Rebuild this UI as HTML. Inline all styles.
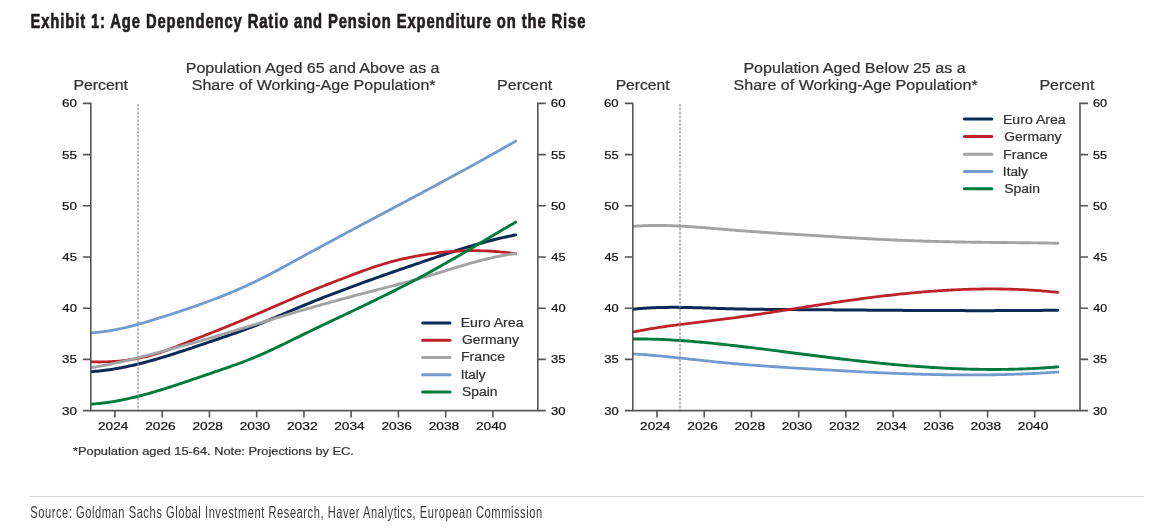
<!DOCTYPE html>
<html><head><meta charset="utf-8"><style>
html,body{margin:0;padding:0;background:#fff;}
svg{display:block;font-family:"Liberation Sans",sans-serif;}

</style></head><body>
<svg width="1155" height="531" viewBox="0 0 1155 531">
<defs><filter id="soft" x="0" y="0" width="1155" height="531" filterUnits="userSpaceOnUse"><feGaussianBlur stdDeviation="0.3"/></filter></defs>
<g filter="url(#soft)">
<rect x="30" y="496" width="1114" height="1" fill="#d6d6d6"/>
<path d="M91.30,371.64 L93.30,371.50 L95.30,371.34 L97.31,371.16 L99.31,370.96 L101.31,370.75 L103.31,370.52 L105.31,370.27 L107.32,370.01 L109.32,369.72 L111.32,369.43 L113.32,369.11 L115.32,368.78 L117.33,368.44 L119.33,368.08 L121.33,367.70 L123.33,367.31 L125.34,366.91 L127.34,366.50 L129.34,366.07 L131.34,365.63 L133.34,365.17 L135.35,364.70 L137.35,364.23 L139.35,363.73 L141.35,363.23 L143.35,362.72 L145.36,362.20 L147.36,361.67 L149.36,361.12 L151.36,360.57 L153.36,360.01 L155.37,359.44 L157.37,358.86 L159.37,358.27 L161.37,357.68 L163.37,357.08 L165.38,356.47 L167.38,355.85 L169.38,355.23 L171.38,354.60 L173.39,353.97 L175.39,353.33 L177.39,352.68 L179.39,352.03 L181.39,351.38 L183.40,350.72 L185.40,350.06 L187.40,349.39 L189.40,348.72 L191.40,348.05 L193.41,347.38 L195.41,346.70 L197.41,346.02 L199.41,345.34 L201.41,344.66 L203.42,343.98 L205.42,343.30 L207.42,342.62 L209.42,341.94 L211.42,341.26 L213.43,340.57 L215.43,339.89 L217.43,339.21 L219.43,338.53 L221.43,337.84 L223.44,337.16 L225.44,336.47 L227.44,335.78 L229.44,335.08 L231.45,334.38 L233.45,333.68 L235.45,332.97 L237.45,332.25 L239.45,331.53 L241.46,330.81 L243.46,330.08 L245.46,329.34 L247.46,328.59 L249.46,327.84 L251.47,327.07 L253.47,326.30 L255.47,325.52 L257.47,324.73 L259.47,323.93 L261.48,323.12 L263.48,322.31 L265.48,321.49 L267.48,320.66 L269.48,319.82 L271.49,318.99 L273.49,318.14 L275.49,317.30 L277.49,316.45 L279.50,315.60 L281.50,314.76 L283.50,313.91 L285.50,313.06 L287.50,312.21 L289.51,311.37 L291.51,310.52 L293.51,309.68 L295.51,308.84 L297.51,308.00 L299.52,307.17 L301.52,306.34 L303.52,305.51 L305.52,304.69 L307.52,303.87 L309.53,303.06 L311.53,302.25 L313.53,301.45 L315.53,300.64 L317.53,299.85 L319.54,299.05 L321.54,298.26 L323.54,297.47 L325.54,296.69 L327.54,295.91 L329.55,295.14 L331.55,294.36 L333.55,293.60 L335.55,292.83 L337.56,292.07 L339.56,291.31 L341.56,290.55 L343.56,289.80 L345.56,289.05 L347.57,288.30 L349.57,287.56 L351.57,286.82 L353.57,286.08 L355.57,285.34 L357.58,284.61 L359.58,283.88 L361.58,283.15 L363.58,282.42 L365.58,281.70 L367.59,280.98 L369.59,280.26 L371.59,279.54 L373.59,278.83 L375.59,278.11 L377.60,277.40 L379.60,276.69 L381.60,275.99 L383.60,275.28 L385.61,274.58 L387.61,273.88 L389.61,273.18 L391.61,272.48 L393.61,271.78 L395.62,271.08 L397.62,270.39 L399.62,269.70 L401.62,269.00 L403.62,268.31 L405.63,267.62 L407.63,266.93 L409.63,266.24 L411.63,265.56 L413.63,264.87 L415.64,264.18 L417.64,263.50 L419.64,262.82 L421.64,262.13 L423.64,261.45 L425.65,260.77 L427.65,260.08 L429.65,259.40 L431.65,258.72 L433.65,258.05 L435.66,257.37 L437.66,256.70 L439.66,256.03 L441.66,255.36 L443.67,254.70 L445.67,254.04 L447.67,253.38 L449.67,252.72 L451.67,252.07 L453.68,251.43 L455.68,250.79 L457.68,250.15 L459.68,249.52 L461.68,248.89 L463.69,248.27 L465.69,247.66 L467.69,247.05 L469.69,246.45 L471.69,245.85 L473.70,245.26 L475.70,244.68 L477.70,244.11 L479.70,243.54 L481.70,242.98 L483.71,242.43 L485.71,241.88 L487.71,241.35 L489.71,240.82 L491.72,240.31 L493.72,239.80 L495.72,239.30 L497.72,238.81 L499.72,238.33 L501.73,237.87 L503.73,237.41 L505.73,236.96 L507.73,236.53 L509.73,236.10 L511.74,235.69 L513.74,235.29 L515.74,234.90" fill="none" stroke="#0b2a56" stroke-width="3.0" stroke-linecap="round" stroke-linejoin="round"/>
<path d="M91.30,361.86 L93.30,361.92 L95.30,361.95 L97.31,361.97 L99.31,361.98 L101.31,361.96 L103.31,361.93 L105.31,361.88 L107.32,361.81 L109.32,361.73 L111.32,361.62 L113.32,361.50 L115.32,361.36 L117.33,361.20 L119.33,361.02 L121.33,360.82 L123.33,360.60 L125.34,360.36 L127.34,360.10 L129.34,359.81 L131.34,359.51 L133.34,359.18 L135.35,358.84 L137.35,358.47 L139.35,358.07 L141.35,357.66 L143.35,357.22 L145.36,356.76 L147.36,356.28 L149.36,355.77 L151.36,355.23 L153.36,354.68 L155.37,354.09 L157.37,353.49 L159.37,352.86 L161.37,352.20 L163.37,351.51 L165.38,350.81 L167.38,350.08 L169.38,349.33 L171.38,348.56 L173.39,347.79 L175.39,347.00 L177.39,346.20 L179.39,345.40 L181.39,344.60 L183.40,343.79 L185.40,342.99 L187.40,342.20 L189.40,341.40 L191.40,340.62 L193.41,339.83 L195.41,339.05 L197.41,338.27 L199.41,337.50 L201.41,336.72 L203.42,335.94 L205.42,335.16 L207.42,334.38 L209.42,333.60 L211.42,332.81 L213.43,332.02 L215.43,331.23 L217.43,330.43 L219.43,329.63 L221.43,328.83 L223.44,328.02 L225.44,327.21 L227.44,326.40 L229.44,325.58 L231.45,324.76 L233.45,323.94 L235.45,323.11 L237.45,322.28 L239.45,321.45 L241.46,320.61 L243.46,319.78 L245.46,318.93 L247.46,318.09 L249.46,317.24 L251.47,316.39 L253.47,315.54 L255.47,314.68 L257.47,313.82 L259.47,312.96 L261.48,312.10 L263.48,311.23 L265.48,310.36 L267.48,309.49 L269.48,308.62 L271.49,307.75 L273.49,306.88 L275.49,306.01 L277.49,305.14 L279.50,304.27 L281.50,303.40 L283.50,302.53 L285.50,301.67 L287.50,300.81 L289.51,299.95 L291.51,299.09 L293.51,298.23 L295.51,297.38 L297.51,296.54 L299.52,295.69 L301.52,294.86 L303.52,294.02 L305.52,293.19 L307.52,292.37 L309.53,291.56 L311.53,290.74 L313.53,289.93 L315.53,289.13 L317.53,288.33 L319.54,287.53 L321.54,286.74 L323.54,285.95 L325.54,285.17 L327.54,284.39 L329.55,283.61 L331.55,282.83 L333.55,282.06 L335.55,281.29 L337.56,280.52 L339.56,279.75 L341.56,278.98 L343.56,278.22 L345.56,277.46 L347.57,276.70 L349.57,275.94 L351.57,275.18 L353.57,274.42 L355.57,273.66 L357.58,272.91 L359.58,272.16 L361.58,271.42 L363.58,270.68 L365.58,269.96 L367.59,269.24 L369.59,268.54 L371.59,267.84 L373.59,267.17 L375.59,266.50 L377.60,265.85 L379.60,265.22 L381.60,264.60 L383.60,263.99 L385.61,263.40 L387.61,262.83 L389.61,262.27 L391.61,261.72 L393.61,261.19 L395.62,260.67 L397.62,260.17 L399.62,259.67 L401.62,259.20 L403.62,258.73 L405.63,258.28 L407.63,257.85 L409.63,257.43 L411.63,257.02 L413.63,256.62 L415.64,256.24 L417.64,255.86 L419.64,255.51 L421.64,255.16 L423.64,254.83 L425.65,254.51 L427.65,254.20 L429.65,253.90 L431.65,253.62 L433.65,253.35 L435.66,253.09 L437.66,252.85 L439.66,252.62 L441.66,252.40 L443.67,252.19 L445.67,252.00 L447.67,251.82 L449.67,251.65 L451.67,251.50 L453.68,251.36 L455.68,251.23 L457.68,251.12 L459.68,251.02 L461.68,250.93 L463.69,250.85 L465.69,250.79 L467.69,250.74 L469.69,250.71 L471.69,250.69 L473.70,250.68 L475.70,250.69 L477.70,250.71 L479.70,250.74 L481.70,250.79 L483.71,250.85 L485.71,250.93 L487.71,251.02 L489.71,251.12 L491.72,251.24 L493.72,251.37 L495.72,251.51 L497.72,251.67 L499.72,251.84 L501.73,252.03 L503.73,252.23 L505.73,252.45 L507.73,252.68 L509.73,252.92 L511.74,253.18 L513.74,253.45 L515.74,253.74" fill="none" stroke="#bc2229" stroke-width="2.8" stroke-linecap="round" stroke-linejoin="round"/>
<path d="M91.30,367.59 L93.30,367.28 L95.30,366.96 L97.31,366.62 L99.31,366.27 L101.31,365.91 L103.31,365.54 L105.31,365.17 L107.32,364.78 L109.32,364.38 L111.32,363.97 L113.32,363.55 L115.32,363.12 L117.33,362.69 L119.33,362.25 L121.33,361.80 L123.33,361.34 L125.34,360.87 L127.34,360.40 L129.34,359.92 L131.34,359.44 L133.34,358.95 L135.35,358.45 L137.35,357.95 L139.35,357.44 L141.35,356.93 L143.35,356.41 L145.36,355.90 L147.36,355.37 L149.36,354.85 L151.36,354.32 L153.36,353.78 L155.37,353.25 L157.37,352.71 L159.37,352.17 L161.37,351.63 L163.37,351.09 L165.38,350.55 L167.38,350.00 L169.38,349.46 L171.38,348.91 L173.39,348.36 L175.39,347.81 L177.39,347.26 L179.39,346.71 L181.39,346.16 L183.40,345.60 L185.40,345.04 L187.40,344.48 L189.40,343.92 L191.40,343.36 L193.41,342.80 L195.41,342.23 L197.41,341.66 L199.41,341.09 L201.41,340.52 L203.42,339.94 L205.42,339.36 L207.42,338.78 L209.42,338.20 L211.42,337.62 L213.43,337.03 L215.43,336.44 L217.43,335.85 L219.43,335.25 L221.43,334.66 L223.44,334.06 L225.44,333.46 L227.44,332.86 L229.44,332.26 L231.45,331.65 L233.45,331.05 L235.45,330.44 L237.45,329.83 L239.45,329.22 L241.46,328.62 L243.46,328.00 L245.46,327.39 L247.46,326.78 L249.46,326.17 L251.47,325.56 L253.47,324.95 L255.47,324.33 L257.47,323.72 L259.47,323.11 L261.48,322.50 L263.48,321.88 L265.48,321.27 L267.48,320.66 L269.48,320.05 L271.49,319.44 L273.49,318.83 L275.49,318.22 L277.49,317.62 L279.50,317.01 L281.50,316.41 L283.50,315.80 L285.50,315.20 L287.50,314.60 L289.51,314.00 L291.51,313.41 L293.51,312.81 L295.51,312.22 L297.51,311.63 L299.52,311.04 L301.52,310.45 L303.52,309.87 L305.52,309.29 L307.52,308.71 L309.53,308.13 L311.53,307.56 L313.53,306.98 L315.53,306.41 L317.53,305.85 L319.54,305.28 L321.54,304.72 L323.54,304.16 L325.54,303.60 L327.54,303.04 L329.55,302.49 L331.55,301.94 L333.55,301.39 L335.55,300.84 L337.56,300.29 L339.56,299.75 L341.56,299.20 L343.56,298.66 L345.56,298.12 L347.57,297.59 L349.57,297.05 L351.57,296.52 L353.57,295.98 L355.57,295.45 L357.58,294.92 L359.58,294.39 L361.58,293.87 L363.58,293.34 L365.58,292.82 L367.59,292.29 L369.59,291.77 L371.59,291.25 L373.59,290.73 L375.59,290.22 L377.60,289.70 L379.60,289.18 L381.60,288.67 L383.60,288.15 L385.61,287.63 L387.61,287.12 L389.61,286.60 L391.61,286.08 L393.61,285.56 L395.62,285.04 L397.62,284.51 L399.62,283.98 L401.62,283.45 L403.62,282.92 L405.63,282.38 L407.63,281.84 L409.63,281.30 L411.63,280.75 L413.63,280.19 L415.64,279.63 L417.64,279.07 L419.64,278.50 L421.64,277.92 L423.64,277.34 L425.65,276.75 L427.65,276.15 L429.65,275.55 L431.65,274.95 L433.65,274.34 L435.66,273.74 L437.66,273.12 L439.66,272.51 L441.66,271.90 L443.67,271.28 L445.67,270.67 L447.67,270.05 L449.67,269.44 L451.67,268.83 L453.68,268.22 L455.68,267.61 L457.68,267.00 L459.68,266.40 L461.68,265.81 L463.69,265.22 L465.69,264.63 L467.69,264.05 L469.69,263.48 L471.69,262.92 L473.70,262.36 L475.70,261.81 L477.70,261.27 L479.70,260.74 L481.70,260.22 L483.71,259.71 L485.71,259.22 L487.71,258.73 L489.71,258.26 L491.72,257.80 L493.72,257.35 L495.72,256.92 L497.72,256.50 L499.72,256.09 L501.73,255.71 L503.73,255.33 L505.73,254.98 L507.73,254.64 L509.73,254.32 L511.74,254.02 L513.74,253.74 L515.74,253.48" fill="none" stroke="#a3a3a3" stroke-width="2.9" stroke-linecap="round" stroke-linejoin="round"/>
<path d="M91.30,332.83 L93.30,332.71 L95.30,332.55 L97.31,332.38 L99.31,332.17 L101.31,331.95 L103.31,331.70 L105.31,331.42 L107.32,331.13 L109.32,330.81 L111.32,330.47 L113.32,330.11 L115.32,329.74 L117.33,329.34 L119.33,328.93 L121.33,328.50 L123.33,328.05 L125.34,327.58 L127.34,327.10 L129.34,326.61 L131.34,326.10 L133.34,325.58 L135.35,325.05 L137.35,324.51 L139.35,323.95 L141.35,323.39 L143.35,322.81 L145.36,322.23 L147.36,321.64 L149.36,321.04 L151.36,320.43 L153.36,319.82 L155.37,319.20 L157.37,318.58 L159.37,317.95 L161.37,317.32 L163.37,316.69 L165.38,316.06 L167.38,315.42 L169.38,314.78 L171.38,314.14 L173.39,313.49 L175.39,312.84 L177.39,312.19 L179.39,311.53 L181.39,310.87 L183.40,310.20 L185.40,309.53 L187.40,308.86 L189.40,308.18 L191.40,307.49 L193.41,306.80 L195.41,306.10 L197.41,305.40 L199.41,304.69 L201.41,303.97 L203.42,303.25 L205.42,302.52 L207.42,301.78 L209.42,301.04 L211.42,300.28 L213.43,299.52 L215.43,298.76 L217.43,297.98 L219.43,297.20 L221.43,296.40 L223.44,295.60 L225.44,294.79 L227.44,293.97 L229.44,293.14 L231.45,292.31 L233.45,291.46 L235.45,290.60 L237.45,289.74 L239.45,288.86 L241.46,287.97 L243.46,287.07 L245.46,286.17 L247.46,285.25 L249.46,284.32 L251.47,283.38 L253.47,282.43 L255.47,281.46 L257.47,280.49 L259.47,279.50 L261.48,278.51 L263.48,277.50 L265.48,276.48 L267.48,275.46 L269.48,274.42 L271.49,273.38 L273.49,272.33 L275.49,271.27 L277.49,270.21 L279.50,269.14 L281.50,268.07 L283.50,266.99 L285.50,265.91 L287.50,264.82 L289.51,263.73 L291.51,262.64 L293.51,261.55 L295.51,260.45 L297.51,259.36 L299.52,258.26 L301.52,257.16 L303.52,256.07 L305.52,254.98 L307.52,253.89 L309.53,252.80 L311.53,251.71 L313.53,250.62 L315.53,249.54 L317.53,248.45 L319.54,247.37 L321.54,246.29 L323.54,245.21 L325.54,244.13 L327.54,243.05 L329.55,241.97 L331.55,240.90 L333.55,239.82 L335.55,238.75 L337.56,237.68 L339.56,236.60 L341.56,235.53 L343.56,234.46 L345.56,233.39 L347.57,232.32 L349.57,231.25 L351.57,230.19 L353.57,229.12 L355.57,228.05 L357.58,226.99 L359.58,225.92 L361.58,224.86 L363.58,223.79 L365.58,222.73 L367.59,221.66 L369.59,220.60 L371.59,219.54 L373.59,218.47 L375.59,217.41 L377.60,216.35 L379.60,215.28 L381.60,214.22 L383.60,213.16 L385.61,212.09 L387.61,211.03 L389.61,209.97 L391.61,208.91 L393.61,207.84 L395.62,206.78 L397.62,205.72 L399.62,204.65 L401.62,203.59 L403.62,202.52 L405.63,201.46 L407.63,200.39 L409.63,199.32 L411.63,198.26 L413.63,197.19 L415.64,196.12 L417.64,195.05 L419.64,193.98 L421.64,192.91 L423.64,191.84 L425.65,190.77 L427.65,189.70 L429.65,188.63 L431.65,187.55 L433.65,186.48 L435.66,185.40 L437.66,184.32 L439.66,183.24 L441.66,182.17 L443.67,181.08 L445.67,180.00 L447.67,178.92 L449.67,177.84 L451.67,176.75 L453.68,175.66 L455.68,174.57 L457.68,173.48 L459.68,172.39 L461.68,171.30 L463.69,170.21 L465.69,169.11 L467.69,168.01 L469.69,166.91 L471.69,165.81 L473.70,164.71 L475.70,163.60 L477.70,162.50 L479.70,161.39 L481.70,160.28 L483.71,159.17 L485.71,158.05 L487.71,156.94 L489.71,155.82 L491.72,154.70 L493.72,153.57 L495.72,152.45 L497.72,151.32 L499.72,150.19 L501.73,149.06 L503.73,147.93 L505.73,146.79 L507.73,145.65 L509.73,144.51 L511.74,143.37 L513.74,142.22 L515.74,141.07" fill="none" stroke="#729acc" stroke-width="2.8" stroke-linecap="round" stroke-linejoin="round"/>
<path d="M91.30,404.15 L93.30,404.01 L95.30,403.85 L97.31,403.67 L99.31,403.47 L101.31,403.25 L103.31,403.01 L105.31,402.76 L107.32,402.48 L109.32,402.19 L111.32,401.88 L113.32,401.56 L115.32,401.22 L117.33,400.86 L119.33,400.49 L121.33,400.11 L123.33,399.70 L125.34,399.29 L127.34,398.86 L129.34,398.41 L131.34,397.96 L133.34,397.49 L135.35,397.00 L137.35,396.51 L139.35,396.00 L141.35,395.49 L143.35,394.96 L145.36,394.42 L147.36,393.87 L149.36,393.31 L151.36,392.74 L153.36,392.16 L155.37,391.57 L157.37,390.98 L159.37,390.37 L161.37,389.76 L163.37,389.14 L165.38,388.52 L167.38,387.89 L169.38,387.25 L171.38,386.60 L173.39,385.95 L175.39,385.30 L177.39,384.64 L179.39,383.98 L181.39,383.31 L183.40,382.64 L185.40,381.96 L187.40,381.29 L189.40,380.61 L191.40,379.93 L193.41,379.24 L195.41,378.56 L197.41,377.87 L199.41,377.18 L201.41,376.50 L203.42,375.81 L205.42,375.13 L207.42,374.44 L209.42,373.76 L211.42,373.07 L213.43,372.39 L215.43,371.71 L217.43,371.03 L219.43,370.34 L221.43,369.66 L223.44,368.97 L225.44,368.28 L227.44,367.58 L229.44,366.88 L231.45,366.18 L233.45,365.46 L235.45,364.75 L237.45,364.02 L239.45,363.28 L241.46,362.54 L243.46,361.79 L245.46,361.02 L247.46,360.25 L249.46,359.46 L251.47,358.66 L253.47,357.85 L255.47,357.02 L257.47,356.18 L259.47,355.32 L261.48,354.45 L263.48,353.57 L265.48,352.68 L267.48,351.77 L269.48,350.85 L271.49,349.93 L273.49,348.99 L275.49,348.05 L277.49,347.09 L279.50,346.14 L281.50,345.17 L283.50,344.20 L285.50,343.23 L287.50,342.25 L289.51,341.27 L291.51,340.29 L293.51,339.30 L295.51,338.32 L297.51,337.33 L299.52,336.35 L301.52,335.36 L303.52,334.38 L305.52,333.41 L307.52,332.43 L309.53,331.46 L311.53,330.50 L313.53,329.53 L315.53,328.57 L317.53,327.61 L319.54,326.65 L321.54,325.69 L323.54,324.73 L325.54,323.78 L327.54,322.83 L329.55,321.88 L331.55,320.93 L333.55,319.98 L335.55,319.03 L337.56,318.08 L339.56,317.14 L341.56,316.19 L343.56,315.24 L345.56,314.29 L347.57,313.35 L349.57,312.40 L351.57,311.45 L353.57,310.50 L355.57,309.55 L357.58,308.60 L359.58,307.65 L361.58,306.69 L363.58,305.74 L365.58,304.78 L367.59,303.82 L369.59,302.86 L371.59,301.90 L373.59,300.93 L375.59,299.96 L377.60,298.99 L379.60,298.01 L381.60,297.04 L383.60,296.06 L385.61,295.07 L387.61,294.08 L389.61,293.09 L391.61,292.10 L393.61,291.10 L395.62,290.09 L397.62,289.08 L399.62,288.07 L401.62,287.05 L403.62,286.03 L405.63,285.00 L407.63,283.97 L409.63,282.93 L411.63,281.89 L413.63,280.84 L415.64,279.78 L417.64,278.72 L419.64,277.65 L421.64,276.57 L423.64,275.49 L425.65,274.40 L427.65,273.31 L429.65,272.21 L431.65,271.11 L433.65,269.99 L435.66,268.88 L437.66,267.76 L439.66,266.63 L441.66,265.50 L443.67,264.36 L445.67,263.22 L447.67,262.07 L449.67,260.93 L451.67,259.77 L453.68,258.62 L455.68,257.46 L457.68,256.29 L459.68,255.13 L461.68,253.96 L463.69,252.79 L465.69,251.61 L467.69,250.44 L469.69,249.26 L471.69,248.08 L473.70,246.90 L475.70,245.71 L477.70,244.53 L479.70,243.34 L481.70,242.15 L483.71,240.97 L485.71,239.78 L487.71,238.59 L489.71,237.40 L491.72,236.22 L493.72,235.03 L495.72,233.84 L497.72,232.65 L499.72,231.47 L501.73,230.28 L503.73,229.10 L505.73,227.92 L507.73,226.74 L509.73,225.56 L511.74,224.38 L513.74,223.21 L515.74,222.04" fill="none" stroke="#007a3c" stroke-width="2.9" stroke-linecap="round" stroke-linejoin="round"/>
<line x1="138.00" y1="104" x2="138.00" y2="410" stroke="#909090" stroke-width="1.25" stroke-dasharray="2.5,1.37"/>
<path d="M82.80,103.4 H90.8 V410.6 H537.8 V103.4 H545.80" fill="none" stroke="#555" stroke-width="1.6"/>
<path d="M82.80,359.40 H90.8 M537.8,359.40 H545.80 M82.80,308.20 H90.8 M537.8,308.20 H545.80 M82.80,257.00 H90.8 M537.8,257.00 H545.80 M82.80,205.80 H90.8 M537.8,205.80 H545.80 M82.80,154.60 H90.8 M537.8,154.60 H545.80 M82.80,410.6 H90.8 M537.8,410.6 H545.80 M114.92,410.6 V417.6 M162.18,410.6 V417.6 M209.43,410.6 V417.6 M256.68,410.6 V417.6 M303.93,410.6 V417.6 M351.18,410.6 V417.6 M398.43,410.6 V417.6 M445.68,410.6 V417.6 M492.93,410.6 V417.6 " fill="none" stroke="#555" stroke-width="1.6"/>
<line x1="422.6" y1="322.9" x2="450.0" y2="322.9" stroke="#0b2a56" stroke-width="3" stroke-linecap="round"/>
<line x1="422.6" y1="340.3" x2="450.0" y2="340.3" stroke="#bc2229" stroke-width="3" stroke-linecap="round"/>
<line x1="422.6" y1="357.5" x2="450.0" y2="357.5" stroke="#a3a3a3" stroke-width="3" stroke-linecap="round"/>
<line x1="422.6" y1="374.8" x2="450.0" y2="374.8" stroke="#729acc" stroke-width="3" stroke-linecap="round"/>
<line x1="422.6" y1="392.1" x2="450.0" y2="392.1" stroke="#007a3c" stroke-width="3" stroke-linecap="round"/>
<path d="M633.40,309.16 L635.40,308.96 L637.40,308.78 L639.41,308.61 L641.41,308.45 L643.41,308.30 L645.41,308.17 L647.41,308.05 L649.42,307.94 L651.42,307.83 L653.42,307.74 L655.42,307.67 L657.42,307.60 L659.43,307.54 L661.43,307.48 L663.43,307.44 L665.43,307.41 L667.44,307.38 L669.44,307.37 L671.44,307.36 L673.44,307.35 L675.44,307.36 L677.45,307.37 L679.45,307.38 L681.45,307.41 L683.45,307.43 L685.45,307.47 L687.46,307.50 L689.46,307.54 L691.46,307.59 L693.46,307.64 L695.46,307.69 L697.47,307.75 L699.47,307.80 L701.47,307.87 L703.47,307.93 L705.47,307.99 L707.48,308.06 L709.48,308.12 L711.48,308.19 L713.48,308.25 L715.49,308.32 L717.49,308.39 L719.49,308.45 L721.49,308.52 L723.49,308.58 L725.50,308.64 L727.50,308.70 L729.50,308.75 L731.50,308.81 L733.50,308.86 L735.51,308.90 L737.51,308.95 L739.51,308.99 L741.51,309.03 L743.51,309.07 L745.52,309.11 L747.52,309.15 L749.52,309.18 L751.52,309.21 L753.52,309.24 L755.53,309.27 L757.53,309.30 L759.53,309.32 L761.53,309.35 L763.53,309.37 L765.54,309.39 L767.54,309.41 L769.54,309.43 L771.54,309.45 L773.55,309.47 L775.55,309.48 L777.55,309.50 L779.55,309.51 L781.55,309.53 L783.56,309.54 L785.56,309.56 L787.56,309.57 L789.56,309.58 L791.56,309.60 L793.57,309.61 L795.57,309.62 L797.57,309.63 L799.57,309.65 L801.57,309.66 L803.58,309.67 L805.58,309.69 L807.58,309.70 L809.58,309.71 L811.58,309.73 L813.59,309.74 L815.59,309.75 L817.59,309.77 L819.59,309.78 L821.60,309.80 L823.60,309.81 L825.60,309.83 L827.60,309.84 L829.60,309.86 L831.61,309.87 L833.61,309.88 L835.61,309.90 L837.61,309.91 L839.61,309.93 L841.62,309.94 L843.62,309.96 L845.62,309.97 L847.62,309.99 L849.62,310.00 L851.63,310.02 L853.63,310.03 L855.63,310.05 L857.63,310.06 L859.63,310.08 L861.64,310.09 L863.64,310.11 L865.64,310.12 L867.64,310.13 L869.64,310.15 L871.65,310.16 L873.65,310.18 L875.65,310.19 L877.65,310.21 L879.66,310.22 L881.66,310.23 L883.66,310.25 L885.66,310.26 L887.66,310.27 L889.67,310.29 L891.67,310.30 L893.67,310.31 L895.67,310.33 L897.67,310.34 L899.68,310.35 L901.68,310.36 L903.68,310.38 L905.68,310.39 L907.68,310.40 L909.69,310.41 L911.69,310.42 L913.69,310.43 L915.69,310.45 L917.69,310.46 L919.70,310.47 L921.70,310.48 L923.70,310.49 L925.70,310.50 L927.71,310.51 L929.71,310.51 L931.71,310.52 L933.71,310.53 L935.71,310.54 L937.72,310.55 L939.72,310.56 L941.72,310.56 L943.72,310.57 L945.72,310.58 L947.73,310.58 L949.73,310.59 L951.73,310.60 L953.73,310.60 L955.73,310.61 L957.74,310.61 L959.74,310.62 L961.74,310.62 L963.74,310.62 L965.74,310.63 L967.75,310.63 L969.75,310.63 L971.75,310.63 L973.75,310.63 L975.75,310.64 L977.76,310.64 L979.76,310.64 L981.76,310.64 L983.76,310.64 L985.77,310.63 L987.77,310.63 L989.77,310.63 L991.77,310.63 L993.77,310.63 L995.78,310.62 L997.78,310.62 L999.78,310.61 L1001.78,310.61 L1003.78,310.60 L1005.79,310.60 L1007.79,310.59 L1009.79,310.58 L1011.79,310.58 L1013.79,310.57 L1015.80,310.56 L1017.80,310.55 L1019.80,310.54 L1021.80,310.53 L1023.80,310.52 L1025.81,310.51 L1027.81,310.49 L1029.81,310.48 L1031.81,310.47 L1033.82,310.45 L1035.82,310.44 L1037.82,310.42 L1039.82,310.41 L1041.82,310.39 L1043.83,310.37 L1045.83,310.36 L1047.83,310.34 L1049.83,310.32 L1051.83,310.30 L1053.84,310.28 L1055.84,310.26 L1057.84,310.23" fill="none" stroke="#0b2a56" stroke-width="3.0" stroke-linecap="round" stroke-linejoin="round"/>
<path d="M633.40,331.93 L635.40,331.53 L637.40,331.14 L639.41,330.76 L641.41,330.39 L643.41,330.03 L645.41,329.68 L647.41,329.33 L649.42,328.99 L651.42,328.66 L653.42,328.33 L655.42,328.01 L657.42,327.70 L659.43,327.39 L661.43,327.09 L663.43,326.79 L665.43,326.50 L667.44,326.22 L669.44,325.94 L671.44,325.66 L673.44,325.39 L675.44,325.12 L677.45,324.85 L679.45,324.59 L681.45,324.33 L683.45,324.07 L685.45,323.82 L687.46,323.57 L689.46,323.32 L691.46,323.07 L693.46,322.83 L695.46,322.58 L697.47,322.34 L699.47,322.10 L701.47,321.85 L703.47,321.61 L705.47,321.37 L707.48,321.13 L709.48,320.88 L711.48,320.64 L713.48,320.39 L715.49,320.15 L717.49,319.90 L719.49,319.65 L721.49,319.40 L723.49,319.14 L725.50,318.89 L727.50,318.63 L729.50,318.36 L731.50,318.10 L733.50,317.83 L735.51,317.55 L737.51,317.28 L739.51,317.00 L741.51,316.72 L743.51,316.44 L745.52,316.15 L747.52,315.86 L749.52,315.57 L751.52,315.28 L753.52,314.99 L755.53,314.69 L757.53,314.39 L759.53,314.09 L761.53,313.79 L763.53,313.49 L765.54,313.19 L767.54,312.88 L769.54,312.57 L771.54,312.26 L773.55,311.95 L775.55,311.64 L777.55,311.33 L779.55,311.02 L781.55,310.71 L783.56,310.40 L785.56,310.08 L787.56,309.77 L789.56,309.45 L791.56,309.14 L793.57,308.83 L795.57,308.51 L797.57,308.20 L799.57,307.88 L801.57,307.57 L803.58,307.26 L805.58,306.94 L807.58,306.63 L809.58,306.32 L811.58,306.01 L813.59,305.70 L815.59,305.39 L817.59,305.08 L819.59,304.78 L821.60,304.47 L823.60,304.17 L825.60,303.86 L827.60,303.56 L829.60,303.26 L831.61,302.97 L833.61,302.67 L835.61,302.38 L837.61,302.08 L839.61,301.79 L841.62,301.50 L843.62,301.22 L845.62,300.93 L847.62,300.65 L849.62,300.37 L851.63,300.09 L853.63,299.81 L855.63,299.54 L857.63,299.27 L859.63,299.00 L861.64,298.73 L863.64,298.47 L865.64,298.20 L867.64,297.94 L869.64,297.69 L871.65,297.43 L873.65,297.18 L875.65,296.93 L877.65,296.69 L879.66,296.44 L881.66,296.20 L883.66,295.96 L885.66,295.73 L887.66,295.50 L889.67,295.27 L891.67,295.05 L893.67,294.82 L895.67,294.60 L897.67,294.39 L899.68,294.18 L901.68,293.97 L903.68,293.76 L905.68,293.56 L907.68,293.36 L909.69,293.17 L911.69,292.98 L913.69,292.79 L915.69,292.61 L917.69,292.43 L919.70,292.25 L921.70,292.08 L923.70,291.91 L925.70,291.75 L927.71,291.59 L929.71,291.43 L931.71,291.28 L933.71,291.13 L935.71,290.99 L937.72,290.85 L939.72,290.72 L941.72,290.59 L943.72,290.46 L945.72,290.34 L947.73,290.23 L949.73,290.11 L951.73,290.01 L953.73,289.91 L955.73,289.81 L957.74,289.72 L959.74,289.63 L961.74,289.55 L963.74,289.47 L965.74,289.39 L967.75,289.33 L969.75,289.26 L971.75,289.21 L973.75,289.16 L975.75,289.11 L977.76,289.07 L979.76,289.03 L981.76,289.00 L983.76,288.98 L985.77,288.96 L987.77,288.94 L989.77,288.93 L991.77,288.93 L993.77,288.94 L995.78,288.94 L997.78,288.96 L999.78,288.98 L1001.78,289.01 L1003.78,289.04 L1005.79,289.08 L1007.79,289.12 L1009.79,289.18 L1011.79,289.23 L1013.79,289.30 L1015.80,289.37 L1017.80,289.44 L1019.80,289.53 L1021.80,289.61 L1023.80,289.71 L1025.81,289.81 L1027.81,289.92 L1029.81,290.04 L1031.81,290.16 L1033.82,290.29 L1035.82,290.43 L1037.82,290.57 L1039.82,290.72 L1041.82,290.88 L1043.83,291.04 L1045.83,291.21 L1047.83,291.39 L1049.83,291.57 L1051.83,291.77 L1053.84,291.97 L1055.84,292.17 L1057.84,292.39" fill="none" stroke="#bc2229" stroke-width="2.8" stroke-linecap="round" stroke-linejoin="round"/>
<path d="M633.40,226.36 L635.40,226.21 L637.40,226.07 L639.41,225.95 L641.41,225.84 L643.41,225.74 L645.41,225.66 L647.41,225.60 L649.42,225.54 L651.42,225.50 L653.42,225.47 L655.42,225.45 L657.42,225.45 L659.43,225.45 L661.43,225.47 L663.43,225.50 L665.43,225.53 L667.44,225.58 L669.44,225.64 L671.44,225.70 L673.44,225.78 L675.44,225.86 L677.45,225.95 L679.45,226.04 L681.45,226.15 L683.45,226.26 L685.45,226.38 L687.46,226.50 L689.46,226.63 L691.46,226.77 L693.46,226.90 L695.46,227.05 L697.47,227.20 L699.47,227.35 L701.47,227.50 L703.47,227.66 L705.47,227.82 L707.48,227.98 L709.48,228.15 L711.48,228.32 L713.48,228.48 L715.49,228.65 L717.49,228.82 L719.49,228.99 L721.49,229.16 L723.49,229.32 L725.50,229.49 L727.50,229.65 L729.50,229.82 L731.50,229.98 L733.50,230.14 L735.51,230.29 L737.51,230.45 L739.51,230.60 L741.51,230.75 L743.51,230.90 L745.52,231.05 L747.52,231.20 L749.52,231.35 L751.52,231.49 L753.52,231.63 L755.53,231.78 L757.53,231.92 L759.53,232.06 L761.53,232.19 L763.53,232.33 L765.54,232.47 L767.54,232.60 L769.54,232.74 L771.54,232.87 L773.55,233.00 L775.55,233.13 L777.55,233.27 L779.55,233.40 L781.55,233.53 L783.56,233.65 L785.56,233.78 L787.56,233.91 L789.56,234.04 L791.56,234.17 L793.57,234.29 L795.57,234.42 L797.57,234.54 L799.57,234.67 L801.57,234.80 L803.58,234.92 L805.58,235.05 L807.58,235.17 L809.58,235.30 L811.58,235.42 L813.59,235.55 L815.59,235.67 L817.59,235.79 L819.59,235.92 L821.60,236.04 L823.60,236.16 L825.60,236.28 L827.60,236.40 L829.60,236.52 L831.61,236.64 L833.61,236.76 L835.61,236.88 L837.61,237.00 L839.61,237.12 L841.62,237.23 L843.62,237.35 L845.62,237.47 L847.62,237.58 L849.62,237.69 L851.63,237.81 L853.63,237.92 L855.63,238.03 L857.63,238.14 L859.63,238.25 L861.64,238.36 L863.64,238.47 L865.64,238.57 L867.64,238.68 L869.64,238.78 L871.65,238.88 L873.65,238.99 L875.65,239.09 L877.65,239.19 L879.66,239.29 L881.66,239.38 L883.66,239.48 L885.66,239.58 L887.66,239.67 L889.67,239.76 L891.67,239.85 L893.67,239.94 L895.67,240.03 L897.67,240.12 L899.68,240.21 L901.68,240.29 L903.68,240.37 L905.68,240.45 L907.68,240.53 L909.69,240.61 L911.69,240.69 L913.69,240.76 L915.69,240.84 L917.69,240.91 L919.70,240.98 L921.70,241.05 L923.70,241.11 L925.70,241.18 L927.71,241.24 L929.71,241.30 L931.71,241.36 L933.71,241.42 L935.71,241.48 L937.72,241.53 L939.72,241.58 L941.72,241.63 L943.72,241.68 L945.72,241.73 L947.73,241.77 L949.73,241.82 L951.73,241.86 L953.73,241.90 L955.73,241.93 L957.74,241.97 L959.74,242.01 L961.74,242.04 L963.74,242.07 L965.74,242.10 L967.75,242.13 L969.75,242.16 L971.75,242.19 L973.75,242.22 L975.75,242.24 L977.76,242.27 L979.76,242.29 L981.76,242.32 L983.76,242.34 L985.77,242.36 L987.77,242.38 L989.77,242.41 L991.77,242.43 L993.77,242.45 L995.78,242.47 L997.78,242.49 L999.78,242.51 L1001.78,242.53 L1003.78,242.55 L1005.79,242.57 L1007.79,242.58 L1009.79,242.60 L1011.79,242.62 L1013.79,242.64 L1015.80,242.66 L1017.80,242.68 L1019.80,242.71 L1021.80,242.73 L1023.80,242.75 L1025.81,242.77 L1027.81,242.79 L1029.81,242.82 L1031.81,242.84 L1033.82,242.87 L1035.82,242.89 L1037.82,242.92 L1039.82,242.95 L1041.82,242.98 L1043.83,243.01 L1045.83,243.04 L1047.83,243.07 L1049.83,243.11 L1051.83,243.14 L1053.84,243.18 L1055.84,243.22 L1057.84,243.26" fill="none" stroke="#a3a3a3" stroke-width="2.9" stroke-linecap="round" stroke-linejoin="round"/>
<path d="M633.40,353.96 L635.40,354.08 L637.40,354.20 L639.41,354.33 L641.41,354.47 L643.41,354.61 L645.41,354.76 L647.41,354.92 L649.42,355.08 L651.42,355.24 L653.42,355.42 L655.42,355.59 L657.42,355.77 L659.43,355.96 L661.43,356.15 L663.43,356.34 L665.43,356.54 L667.44,356.74 L669.44,356.94 L671.44,357.15 L673.44,357.35 L675.44,357.56 L677.45,357.78 L679.45,357.99 L681.45,358.20 L683.45,358.42 L685.45,358.63 L687.46,358.85 L689.46,359.07 L691.46,359.28 L693.46,359.50 L695.46,359.72 L697.47,359.93 L699.47,360.15 L701.47,360.36 L703.47,360.58 L705.47,360.79 L707.48,361.00 L709.48,361.21 L711.48,361.42 L713.48,361.63 L715.49,361.83 L717.49,362.04 L719.49,362.24 L721.49,362.44 L723.49,362.63 L725.50,362.82 L727.50,363.01 L729.50,363.20 L731.50,363.38 L733.50,363.56 L735.51,363.74 L737.51,363.91 L739.51,364.08 L741.51,364.25 L743.51,364.41 L745.52,364.58 L747.52,364.74 L749.52,364.89 L751.52,365.05 L753.52,365.20 L755.53,365.35 L757.53,365.50 L759.53,365.65 L761.53,365.79 L763.53,365.93 L765.54,366.07 L767.54,366.21 L769.54,366.35 L771.54,366.49 L773.55,366.62 L775.55,366.75 L777.55,366.89 L779.55,367.02 L781.55,367.15 L783.56,367.28 L785.56,367.40 L787.56,367.53 L789.56,367.66 L791.56,367.78 L793.57,367.91 L795.57,368.03 L797.57,368.16 L799.57,368.28 L801.57,368.40 L803.58,368.53 L805.58,368.65 L807.58,368.77 L809.58,368.89 L811.58,369.02 L813.59,369.14 L815.59,369.26 L817.59,369.38 L819.59,369.50 L821.60,369.62 L823.60,369.74 L825.60,369.85 L827.60,369.97 L829.60,370.09 L831.61,370.20 L833.61,370.32 L835.61,370.43 L837.61,370.55 L839.61,370.66 L841.62,370.77 L843.62,370.88 L845.62,370.99 L847.62,371.10 L849.62,371.21 L851.63,371.32 L853.63,371.43 L855.63,371.53 L857.63,371.64 L859.63,371.74 L861.64,371.84 L863.64,371.94 L865.64,372.04 L867.64,372.14 L869.64,372.24 L871.65,372.34 L873.65,372.43 L875.65,372.52 L877.65,372.62 L879.66,372.71 L881.66,372.80 L883.66,372.89 L885.66,372.97 L887.66,373.06 L889.67,373.14 L891.67,373.22 L893.67,373.31 L895.67,373.38 L897.67,373.46 L899.68,373.54 L901.68,373.61 L903.68,373.68 L905.68,373.76 L907.68,373.83 L909.69,373.89 L911.69,373.96 L913.69,374.02 L915.69,374.08 L917.69,374.14 L919.70,374.20 L921.70,374.26 L923.70,374.31 L925.70,374.37 L927.71,374.42 L929.71,374.46 L931.71,374.51 L933.71,374.55 L935.71,374.60 L937.72,374.64 L939.72,374.67 L941.72,374.71 L943.72,374.74 L945.72,374.77 L947.73,374.80 L949.73,374.83 L951.73,374.85 L953.73,374.87 L955.73,374.89 L957.74,374.91 L959.74,374.92 L961.74,374.94 L963.74,374.95 L965.74,374.95 L967.75,374.96 L969.75,374.96 L971.75,374.96 L973.75,374.95 L975.75,374.95 L977.76,374.94 L979.76,374.93 L981.76,374.91 L983.76,374.90 L985.77,374.88 L987.77,374.85 L989.77,374.83 L991.77,374.80 L993.77,374.77 L995.78,374.73 L997.78,374.69 L999.78,374.65 L1001.78,374.61 L1003.78,374.56 L1005.79,374.51 L1007.79,374.46 L1009.79,374.41 L1011.79,374.35 L1013.79,374.29 L1015.80,374.22 L1017.80,374.15 L1019.80,374.08 L1021.80,374.00 L1023.80,373.93 L1025.81,373.84 L1027.81,373.76 L1029.81,373.67 L1031.81,373.58 L1033.82,373.48 L1035.82,373.38 L1037.82,373.28 L1039.82,373.17 L1041.82,373.06 L1043.83,372.95 L1045.83,372.83 L1047.83,372.71 L1049.83,372.59 L1051.83,372.46 L1053.84,372.33 L1055.84,372.19 L1057.84,372.05" fill="none" stroke="#729acc" stroke-width="2.8" stroke-linecap="round" stroke-linejoin="round"/>
<path d="M633.40,338.94 L635.40,338.93 L637.40,338.93 L639.41,338.94 L641.41,338.95 L643.41,338.97 L645.41,339.00 L647.41,339.04 L649.42,339.08 L651.42,339.13 L653.42,339.19 L655.42,339.25 L657.42,339.32 L659.43,339.39 L661.43,339.48 L663.43,339.56 L665.43,339.66 L667.44,339.76 L669.44,339.86 L671.44,339.97 L673.44,340.09 L675.44,340.21 L677.45,340.34 L679.45,340.47 L681.45,340.61 L683.45,340.75 L685.45,340.89 L687.46,341.05 L689.46,341.20 L691.46,341.36 L693.46,341.53 L695.46,341.70 L697.47,341.87 L699.47,342.05 L701.47,342.23 L703.47,342.41 L705.47,342.60 L707.48,342.79 L709.48,342.99 L711.48,343.18 L713.48,343.39 L715.49,343.59 L717.49,343.80 L719.49,344.01 L721.49,344.22 L723.49,344.44 L725.50,344.65 L727.50,344.87 L729.50,345.10 L731.50,345.32 L733.50,345.55 L735.51,345.78 L737.51,346.01 L739.51,346.24 L741.51,346.48 L743.51,346.71 L745.52,346.95 L747.52,347.19 L749.52,347.43 L751.52,347.67 L753.52,347.92 L755.53,348.16 L757.53,348.41 L759.53,348.66 L761.53,348.91 L763.53,349.16 L765.54,349.41 L767.54,349.66 L769.54,349.91 L771.54,350.16 L773.55,350.42 L775.55,350.67 L777.55,350.93 L779.55,351.18 L781.55,351.44 L783.56,351.69 L785.56,351.95 L787.56,352.21 L789.56,352.46 L791.56,352.72 L793.57,352.98 L795.57,353.24 L797.57,353.49 L799.57,353.75 L801.57,354.00 L803.58,354.26 L805.58,354.52 L807.58,354.77 L809.58,355.02 L811.58,355.28 L813.59,355.53 L815.59,355.78 L817.59,356.03 L819.59,356.29 L821.60,356.53 L823.60,356.78 L825.60,357.03 L827.60,357.28 L829.60,357.52 L831.61,357.76 L833.61,358.01 L835.61,358.25 L837.61,358.49 L839.61,358.73 L841.62,358.96 L843.62,359.20 L845.62,359.43 L847.62,359.66 L849.62,359.89 L851.63,360.12 L853.63,360.35 L855.63,360.57 L857.63,360.80 L859.63,361.02 L861.64,361.24 L863.64,361.46 L865.64,361.67 L867.64,361.89 L869.64,362.10 L871.65,362.31 L873.65,362.52 L875.65,362.72 L877.65,362.93 L879.66,363.13 L881.66,363.33 L883.66,363.52 L885.66,363.72 L887.66,363.91 L889.67,364.10 L891.67,364.29 L893.67,364.47 L895.67,364.65 L897.67,364.83 L899.68,365.01 L901.68,365.18 L903.68,365.35 L905.68,365.52 L907.68,365.68 L909.69,365.85 L911.69,366.01 L913.69,366.16 L915.69,366.32 L917.69,366.47 L919.70,366.61 L921.70,366.76 L923.70,366.90 L925.70,367.03 L927.71,367.17 L929.71,367.30 L931.71,367.43 L933.71,367.55 L935.71,367.67 L937.72,367.79 L939.72,367.90 L941.72,368.01 L943.72,368.12 L945.72,368.22 L947.73,368.32 L949.73,368.41 L951.73,368.50 L953.73,368.59 L955.73,368.67 L957.74,368.75 L959.74,368.82 L961.74,368.90 L963.74,368.96 L965.74,369.03 L967.75,369.08 L969.75,369.14 L971.75,369.19 L973.75,369.24 L975.75,369.28 L977.76,369.32 L979.76,369.35 L981.76,369.38 L983.76,369.40 L985.77,369.42 L987.77,369.44 L989.77,369.45 L991.77,369.46 L993.77,369.46 L995.78,369.46 L997.78,369.45 L999.78,369.44 L1001.78,369.42 L1003.78,369.40 L1005.79,369.38 L1007.79,369.34 L1009.79,369.31 L1011.79,369.27 L1013.79,369.22 L1015.80,369.17 L1017.80,369.12 L1019.80,369.06 L1021.80,368.99 L1023.80,368.92 L1025.81,368.85 L1027.81,368.76 L1029.81,368.68 L1031.81,368.59 L1033.82,368.49 L1035.82,368.39 L1037.82,368.28 L1039.82,368.17 L1041.82,368.05 L1043.83,367.93 L1045.83,367.80 L1047.83,367.67 L1049.83,367.53 L1051.83,367.38 L1053.84,367.23 L1055.84,367.07 L1057.84,366.91" fill="none" stroke="#007a3c" stroke-width="2.9" stroke-linecap="round" stroke-linejoin="round"/>
<line x1="680.00" y1="104" x2="680.00" y2="410" stroke="#909090" stroke-width="1.25" stroke-dasharray="2.5,1.37"/>
<path d="M624.80,103.4 H632.8 V410.6 H1080.0 V103.4 H1088.00" fill="none" stroke="#555" stroke-width="1.6"/>
<path d="M624.80,359.40 H632.8 M1080.0,359.40 H1088.00 M624.80,308.20 H632.8 M1080.0,308.20 H1088.00 M624.80,257.00 H632.8 M1080.0,257.00 H1088.00 M624.80,205.80 H632.8 M1080.0,205.80 H1088.00 M624.80,154.60 H632.8 M1080.0,154.60 H1088.00 M624.80,410.6 H632.8 M1080.0,410.6 H1088.00 M657.01,410.6 V417.6 M704.23,410.6 V417.6 M751.45,410.6 V417.6 M798.67,410.6 V417.6 M845.89,410.6 V417.6 M893.11,410.6 V417.6 M940.33,410.6 V417.6 M987.55,410.6 V417.6 M1034.77,410.6 V417.6 " fill="none" stroke="#555" stroke-width="1.6"/>
<line x1="964.4" y1="119.0" x2="991.8" y2="119.0" stroke="#0b2a56" stroke-width="3" stroke-linecap="round"/>
<line x1="964.4" y1="136.6" x2="991.8" y2="136.6" stroke="#bc2229" stroke-width="3" stroke-linecap="round"/>
<line x1="964.4" y1="154.2" x2="991.8" y2="154.2" stroke="#a3a3a3" stroke-width="3" stroke-linecap="round"/>
<line x1="964.4" y1="171.5" x2="991.8" y2="171.5" stroke="#729acc" stroke-width="3" stroke-linecap="round"/>
<line x1="964.4" y1="188.7" x2="991.8" y2="188.7" stroke="#007a3c" stroke-width="3" stroke-linecap="round"/>
<text transform="translate(30.46,27.90) scale(0.7449,1)" font-size="19.86" font-weight="bold" letter-spacing="1.19" fill="#231f20" stroke="#231f20" stroke-width="0.67">Exhibit 1: Age Dependency Ratio and Pension Expenditure on the Rise</text>
<text transform="translate(73.43,90.20) scale(1.0505,1)" font-size="15.07" font-weight="normal" letter-spacing="0.00" fill="#333" stroke="#333" stroke-width="0.24">Percent</text>
<text transform="translate(185.72,73.20) scale(1.0631,1)" font-size="15.07" font-weight="normal" letter-spacing="0.00" fill="#333" stroke="#333" stroke-width="0.24">Population Aged 65 and Above as a</text>
<text transform="translate(191.70,90.20) scale(1.0653,1)" font-size="15.07" font-weight="normal" letter-spacing="0.00" fill="#333" stroke="#333" stroke-width="0.23">Share of Working-Age Population*</text>
<text transform="translate(497.12,90.20) scale(1.0623,1)" font-size="15.07" font-weight="normal" letter-spacing="0.00" fill="#333" stroke="#333" stroke-width="0.24">Percent</text>
<text transform="translate(615.65,90.20) scale(1.0406,1)" font-size="15.07" font-weight="normal" letter-spacing="0.00" fill="#333" stroke="#333" stroke-width="0.24">Percent</text>
<text transform="translate(743.42,73.20) scale(1.0656,1)" font-size="15.07" font-weight="normal" letter-spacing="0.00" fill="#333" stroke="#333" stroke-width="0.23">Population Aged Below 25 as a</text>
<text transform="translate(733.50,90.20) scale(1.0662,1)" font-size="15.07" font-weight="normal" letter-spacing="0.00" fill="#333" stroke="#333" stroke-width="0.23">Share of Working-Age Population*</text>
<text transform="translate(1039.42,90.20) scale(1.0584,1)" font-size="15.07" font-weight="normal" letter-spacing="0.00" fill="#333" stroke="#333" stroke-width="0.24">Percent</text>
<text transform="translate(62.06,414.50) scale(1.2196,1)" font-size="10.99" font-weight="normal" letter-spacing="0.00" fill="#111" stroke="#111" stroke-width="0.20">30</text>
<text transform="translate(550.98,414.50) scale(1.1931,1)" font-size="10.99" font-weight="normal" letter-spacing="0.00" fill="#111" stroke="#111" stroke-width="0.21">30</text>
<text transform="translate(62.06,363.30) scale(1.2196,1)" font-size="10.99" font-weight="normal" letter-spacing="0.00" fill="#111" stroke="#111" stroke-width="0.20">35</text>
<text transform="translate(550.98,363.30) scale(1.1931,1)" font-size="10.99" font-weight="normal" letter-spacing="0.00" fill="#111" stroke="#111" stroke-width="0.21">35</text>
<text transform="translate(62.34,312.10) scale(1.1963,1)" font-size="10.99" font-weight="normal" letter-spacing="0.00" fill="#111" stroke="#111" stroke-width="0.21">40</text>
<text transform="translate(551.24,312.10) scale(1.1703,1)" font-size="10.99" font-weight="normal" letter-spacing="0.00" fill="#111" stroke="#111" stroke-width="0.21">40</text>
<text transform="translate(62.34,260.90) scale(1.1963,1)" font-size="10.99" font-weight="normal" letter-spacing="0.00" fill="#111" stroke="#111" stroke-width="0.21">45</text>
<text transform="translate(551.24,260.90) scale(1.1703,1)" font-size="10.99" font-weight="normal" letter-spacing="0.00" fill="#111" stroke="#111" stroke-width="0.21">45</text>
<text transform="translate(62.06,209.70) scale(1.2196,1)" font-size="10.99" font-weight="normal" letter-spacing="0.00" fill="#111" stroke="#111" stroke-width="0.20">50</text>
<text transform="translate(550.98,209.70) scale(1.1931,1)" font-size="10.99" font-weight="normal" letter-spacing="0.00" fill="#111" stroke="#111" stroke-width="0.21">50</text>
<text transform="translate(62.06,158.50) scale(1.2196,1)" font-size="10.99" font-weight="normal" letter-spacing="0.00" fill="#111" stroke="#111" stroke-width="0.20">55</text>
<text transform="translate(550.98,158.50) scale(1.1931,1)" font-size="10.99" font-weight="normal" letter-spacing="0.00" fill="#111" stroke="#111" stroke-width="0.21">55</text>
<text transform="translate(61.92,107.30) scale(1.2315,1)" font-size="10.99" font-weight="normal" letter-spacing="0.00" fill="#111" stroke="#111" stroke-width="0.20">60</text>
<text transform="translate(550.84,107.30) scale(1.2048,1)" font-size="10.99" font-weight="normal" letter-spacing="0.00" fill="#111" stroke="#111" stroke-width="0.21">60</text>
<text transform="translate(97.94,430.30) scale(1.1855,1)" font-size="11.55" font-weight="normal" letter-spacing="0.00" fill="#111" stroke="#111" stroke-width="0.21">2024</text>
<text transform="translate(145.19,430.30) scale(1.1911,1)" font-size="11.55" font-weight="normal" letter-spacing="0.00" fill="#111" stroke="#111" stroke-width="0.21">2026</text>
<text transform="translate(192.44,430.30) scale(1.1911,1)" font-size="11.55" font-weight="normal" letter-spacing="0.00" fill="#111" stroke="#111" stroke-width="0.21">2028</text>
<text transform="translate(239.69,430.30) scale(1.1911,1)" font-size="11.55" font-weight="normal" letter-spacing="0.00" fill="#111" stroke="#111" stroke-width="0.21">2030</text>
<text transform="translate(286.93,430.30) scale(1.1967,1)" font-size="11.55" font-weight="normal" letter-spacing="0.00" fill="#111" stroke="#111" stroke-width="0.21">2032</text>
<text transform="translate(334.19,430.30) scale(1.1855,1)" font-size="11.55" font-weight="normal" letter-spacing="0.00" fill="#111" stroke="#111" stroke-width="0.21">2034</text>
<text transform="translate(381.44,430.30) scale(1.1911,1)" font-size="11.55" font-weight="normal" letter-spacing="0.00" fill="#111" stroke="#111" stroke-width="0.21">2036</text>
<text transform="translate(428.69,430.30) scale(1.1911,1)" font-size="11.55" font-weight="normal" letter-spacing="0.00" fill="#111" stroke="#111" stroke-width="0.21">2038</text>
<text transform="translate(475.94,430.30) scale(1.1911,1)" font-size="11.55" font-weight="normal" letter-spacing="0.00" fill="#111" stroke="#111" stroke-width="0.21">2040</text>
<text transform="translate(604.18,414.50) scale(1.1842,1)" font-size="10.99" font-weight="normal" letter-spacing="0.00" fill="#111" stroke="#111" stroke-width="0.21">30</text>
<text transform="translate(1093.10,414.50) scale(1.1489,1)" font-size="10.99" font-weight="normal" letter-spacing="0.00" fill="#111" stroke="#111" stroke-width="0.22">30</text>
<text transform="translate(604.18,363.30) scale(1.1842,1)" font-size="10.99" font-weight="normal" letter-spacing="0.00" fill="#111" stroke="#111" stroke-width="0.21">35</text>
<text transform="translate(1093.10,363.30) scale(1.1489,1)" font-size="10.99" font-weight="normal" letter-spacing="0.00" fill="#111" stroke="#111" stroke-width="0.22">35</text>
<text transform="translate(604.44,312.10) scale(1.1617,1)" font-size="10.99" font-weight="normal" letter-spacing="0.00" fill="#111" stroke="#111" stroke-width="0.22">40</text>
<text transform="translate(1093.35,312.10) scale(1.1270,1)" font-size="10.99" font-weight="normal" letter-spacing="0.00" fill="#111" stroke="#111" stroke-width="0.22">40</text>
<text transform="translate(604.44,260.90) scale(1.1617,1)" font-size="10.99" font-weight="normal" letter-spacing="0.00" fill="#111" stroke="#111" stroke-width="0.22">45</text>
<text transform="translate(1093.35,260.90) scale(1.1270,1)" font-size="10.99" font-weight="normal" letter-spacing="0.00" fill="#111" stroke="#111" stroke-width="0.22">45</text>
<text transform="translate(604.18,209.70) scale(1.1842,1)" font-size="10.99" font-weight="normal" letter-spacing="0.00" fill="#111" stroke="#111" stroke-width="0.21">50</text>
<text transform="translate(1093.10,209.70) scale(1.1489,1)" font-size="10.99" font-weight="normal" letter-spacing="0.00" fill="#111" stroke="#111" stroke-width="0.22">50</text>
<text transform="translate(604.18,158.50) scale(1.1842,1)" font-size="10.99" font-weight="normal" letter-spacing="0.00" fill="#111" stroke="#111" stroke-width="0.21">55</text>
<text transform="translate(1093.10,158.50) scale(1.1489,1)" font-size="10.99" font-weight="normal" letter-spacing="0.00" fill="#111" stroke="#111" stroke-width="0.22">55</text>
<text transform="translate(604.04,107.30) scale(1.1958,1)" font-size="10.99" font-weight="normal" letter-spacing="0.00" fill="#111" stroke="#111" stroke-width="0.21">60</text>
<text transform="translate(1092.96,107.30) scale(1.1601,1)" font-size="10.99" font-weight="normal" letter-spacing="0.00" fill="#111" stroke="#111" stroke-width="0.22">60</text>
<text transform="translate(640.03,430.30) scale(1.1855,1)" font-size="11.55" font-weight="normal" letter-spacing="0.00" fill="#111" stroke="#111" stroke-width="0.21">2024</text>
<text transform="translate(687.24,430.30) scale(1.1911,1)" font-size="11.55" font-weight="normal" letter-spacing="0.00" fill="#111" stroke="#111" stroke-width="0.21">2026</text>
<text transform="translate(734.46,430.30) scale(1.1911,1)" font-size="11.55" font-weight="normal" letter-spacing="0.00" fill="#111" stroke="#111" stroke-width="0.21">2028</text>
<text transform="translate(781.68,430.30) scale(1.1911,1)" font-size="11.55" font-weight="normal" letter-spacing="0.00" fill="#111" stroke="#111" stroke-width="0.21">2030</text>
<text transform="translate(828.90,430.30) scale(1.1967,1)" font-size="11.55" font-weight="normal" letter-spacing="0.00" fill="#111" stroke="#111" stroke-width="0.21">2032</text>
<text transform="translate(876.13,430.30) scale(1.1855,1)" font-size="11.55" font-weight="normal" letter-spacing="0.00" fill="#111" stroke="#111" stroke-width="0.21">2034</text>
<text transform="translate(923.34,430.30) scale(1.1911,1)" font-size="11.55" font-weight="normal" letter-spacing="0.00" fill="#111" stroke="#111" stroke-width="0.21">2036</text>
<text transform="translate(970.56,430.30) scale(1.1911,1)" font-size="11.55" font-weight="normal" letter-spacing="0.00" fill="#111" stroke="#111" stroke-width="0.21">2038</text>
<text transform="translate(1017.78,430.30) scale(1.1911,1)" font-size="11.55" font-weight="normal" letter-spacing="0.00" fill="#111" stroke="#111" stroke-width="0.21">2040</text>
<text transform="translate(73.04,454.70) scale(1.1367,1)" font-size="11.30" font-weight="normal" letter-spacing="0.00" fill="#333" stroke="#333" stroke-width="0.22">*Population aged 15-64. Note: Projections by EC.</text>
<text transform="translate(30.34,517.90) scale(0.6910,1)" font-size="16.09" font-weight="normal" letter-spacing="0.80" fill="#3a3a3a" stroke="#3a3a3a" stroke-width="0.00">Source: Goldman Sachs Global Investment Research, Haver Analytics, European Commission</text>
<text transform="translate(460.67,326.60) scale(1.1900,1)" font-size="11.88" font-weight="normal" letter-spacing="0.00" fill="#333" stroke="#333" stroke-width="0.21">Euro Area</text>
<text transform="translate(462.01,344.00) scale(1.1648,1)" font-size="11.88" font-weight="normal" letter-spacing="0.00" fill="#333" stroke="#333" stroke-width="0.21">Germany</text>
<text transform="translate(460.97,361.20) scale(1.1932,1)" font-size="11.88" font-weight="normal" letter-spacing="0.00" fill="#333" stroke="#333" stroke-width="0.21">France</text>
<text transform="translate(460.68,378.50) scale(1.1413,1)" font-size="11.88" font-weight="normal" letter-spacing="0.00" fill="#333" stroke="#333" stroke-width="0.22">Italy</text>
<text transform="translate(462.11,395.80) scale(1.1691,1)" font-size="11.88" font-weight="normal" letter-spacing="0.00" fill="#333" stroke="#333" stroke-width="0.21">Spain</text>
<text transform="translate(1002.97,123.50) scale(1.1881,1)" font-size="11.88" font-weight="normal" letter-spacing="0.00" fill="#333" stroke="#333" stroke-width="0.21">Euro Area</text>
<text transform="translate(1004.31,141.10) scale(1.1689,1)" font-size="11.88" font-weight="normal" letter-spacing="0.00" fill="#333" stroke="#333" stroke-width="0.21">Germany</text>
<text transform="translate(1002.95,158.70) scale(1.2101,1)" font-size="11.88" font-weight="normal" letter-spacing="0.00" fill="#333" stroke="#333" stroke-width="0.21">France</text>
<text transform="translate(1002.87,176.00) scale(1.1461,1)" font-size="11.88" font-weight="normal" letter-spacing="0.00" fill="#333" stroke="#333" stroke-width="0.22">Italy</text>
<text transform="translate(1004.30,193.20) scale(1.1725,1)" font-size="11.88" font-weight="normal" letter-spacing="0.00" fill="#333" stroke="#333" stroke-width="0.21">Spain</text>
</g>
</svg></body></html>
